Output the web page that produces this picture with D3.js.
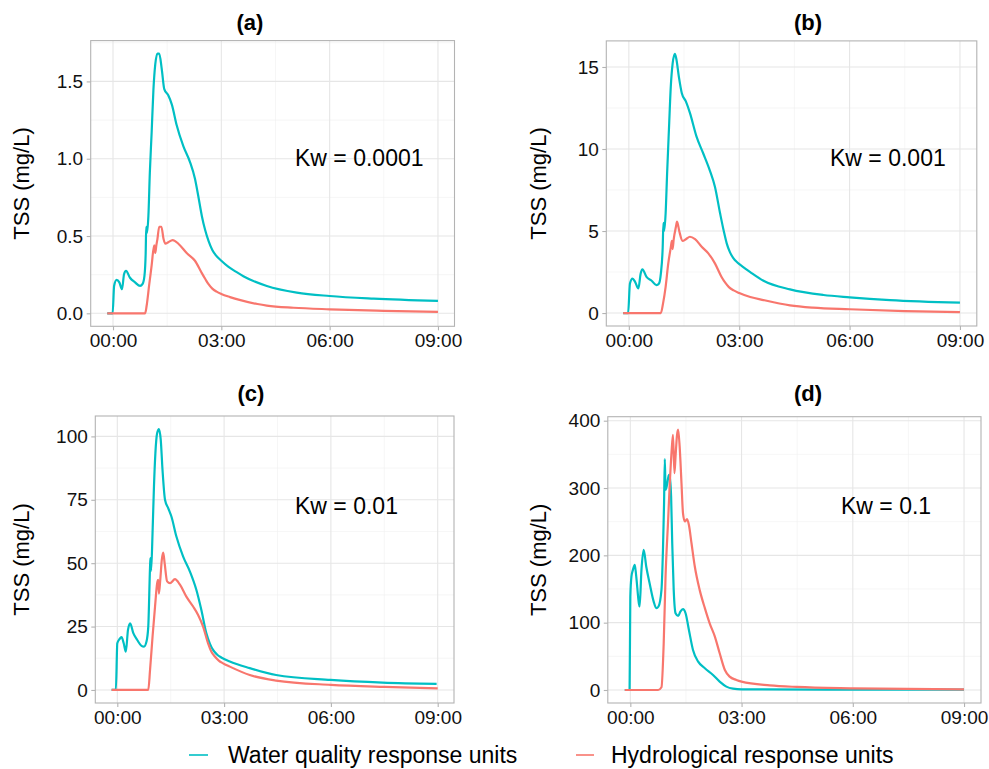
<!DOCTYPE html>
<html><head><meta charset="utf-8">
<script src="https://cdn.jsdelivr.net/npm/d3@7"></script>
<style>body{margin:0;background:#fff;} svg{display:block;font-family:"Liberation Sans",Arial,sans-serif;}</style>
</head><body><svg id="chart" width="989" height="769"></svg>
<script>
// ---------------- DATA ----------------
const seriesNames = ["Water quality response units", "Hydrological response units"];
const panelTitles = ["(a)", "(b)", "(c)", "(d)"];
const kwLabels = ["Kw = 0.0001", "Kw = 0.001", "Kw = 0.01", "Kw = 0.1"];
const xTickValues = [0, 3, 6, 9];            // hours
const xTickLabels = ["00:00", "03:00", "06:00", "09:00"];
const yTicksA = [0, 0.5, 1.0, 1.5];
const yTicksB = [0, 5, 10, 15];
const yTicksC = [0, 25, 50, 75, 100];
const yTicksD = [0, 100, 200, 300, 400];
const yLabelsA = ["0.0", "0.5", "1.0", "1.5"];
const yLabelsB = ["0", "5", "10", "15"];
const yLabelsC = ["0", "25", "50", "75", "100"];
const yLabelsD = ["0", "100", "200", "300", "400"];

// [hours, TSS mg/L]
const wqA = [[-0.16,0],[-0.01,0],[0.03,0.177],[0.10,0.216],[0.175,0.20],[0.25,0.156],[0.305,0.253],[0.36,0.275],[0.47,0.23],[0.61,0.20],[0.75,0.177],[0.82,0.19],[0.87,0.24],[0.905,0.39],[0.92,0.56],[0.94,0.52],[0.98,0.63],[1.02,0.91],[1.07,1.17],[1.12,1.45],[1.17,1.61],[1.23,1.68],[1.28,1.68],[1.35,1.58],[1.42,1.45],[1.53,1.41],[1.63,1.35],[1.76,1.22],[1.95,1.08],[2.13,0.98],[2.27,0.87],[2.36,0.76],[2.46,0.63],[2.55,0.54],[2.65,0.465],[2.75,0.41],[2.85,0.375],[3.0,0.34],[3.2,0.30],[3.4,0.27],[3.61,0.24],[4.26,0.177],[5.09,0.134],[6.0,0.112],[7.22,0.095],[9.0,0.08]];
const hruA = [[-0.16,0],[0.89,0],[0.93,0.047],[1.0,0.18],[1.07,0.31],[1.14,0.44],[1.17,0.39],[1.2,0.44],[1.23,0.48],[1.28,0.56],[1.34,0.56],[1.4,0.48],[1.45,0.45],[1.53,0.46],[1.65,0.474],[1.81,0.45],[2.04,0.39],[2.27,0.34],[2.46,0.26],[2.56,0.22],[2.64,0.19],[2.75,0.16],[2.87,0.14],[3.0,0.125],[3.24,0.105],[3.53,0.085],[4.0,0.06],[4.26,0.05],[5.0,0.036],[6.0,0.026],[7.5,0.016],[9.0,0.009]];

const wqB = [[-0.155,0],[-0.02,0],[0.03,1.8],[0.1,2.1],[0.17,1.9],[0.26,1.5],[0.32,2.4],[0.37,2.66],[0.48,2.2],[0.62,1.97],[0.75,1.7],[0.82,1.8],[0.87,2.4],[0.92,4.0],[0.94,5.5],[0.96,5.0],[1.0,6.08],[1.04,8.5],[1.09,11.2],[1.14,13.8],[1.19,15.2],[1.25,15.8],[1.29,15.5],[1.36,14.4],[1.44,13.4],[1.55,12.9],[1.66,12.2],[1.84,10.75],[2.02,9.74],[2.2,8.7],[2.34,7.7],[2.48,6.08],[2.58,5.0],[2.66,4.25],[2.75,3.7],[2.84,3.35],[2.95,3.08],[3.1,2.82],[3.3,2.5],[3.66,1.97],[4.38,1.44],[5.29,1.1],[6.0,0.96],[7.1,0.79],[9.0,0.63]];
const hruB = [[-0.155,0],[0.87,0],[0.93,0.59],[1.0,1.6],[1.07,3.0],[1.14,4.0],[1.17,4.4],[1.19,3.9],[1.22,4.5],[1.28,5.26],[1.31,5.57],[1.37,5.0],[1.46,4.4],[1.55,4.5],[1.66,4.65],[1.8,4.5],[1.98,4.04],[2.16,3.64],[2.34,3.03],[2.52,2.2],[2.62,1.85],[2.72,1.58],[2.85,1.38],[3.0,1.22],[3.3,0.98],[3.66,0.79],[4.38,0.47],[5.0,0.33],[6.0,0.23],[7.5,0.12],[9.0,0.06]];

const wqC = [[-0.16,0],[-0.04,0],[0.0,18.4],[0.06,20],[0.12,20.8],[0.18,18.4],[0.24,15.1],[0.30,23.7],[0.36,26.3],[0.45,22.4],[0.56,19.7],[0.68,17.4],[0.75,17.1],[0.82,19.1],[0.87,25],[0.92,48.7],[0.93,52],[0.95,47],[0.99,61.9],[1.03,80.3],[1.07,93.4],[1.12,101.3],[1.17,102.9],[1.22,98.7],[1.27,86.8],[1.34,75],[1.43,71.7],[1.52,68.4],[1.66,60.5],[1.85,52.6],[2.04,46.7],[2.22,39.5],[2.36,31.6],[2.5,22.4],[2.6,18.3],[2.69,15.8],[2.8,14.0],[2.92,12.8],[3.16,11.2],[3.72,8.6],[4.46,5.9],[5.99,3.95],[7.45,2.9],[8.97,2.4]];
const hruC = [[-0.16,0],[0.87,0],[0.92,7.9],[0.99,21],[1.06,32.9],[1.12,42.1],[1.15,43.4],[1.17,38],[1.21,44],[1.25,51.3],[1.29,54.2],[1.33,50],[1.40,42.8],[1.48,42.1],[1.62,43.7],[1.76,41.5],[1.94,36.8],[2.13,32.9],[2.27,29.6],[2.41,25],[2.55,18.4],[2.64,15.2],[2.74,13.2],[2.85,11.6],[2.97,10.5],[3.16,9.2],[3.72,5.9],[4.46,3.7],[6.0,2.0],[7.5,1.2],[9.0,0.66]];

const wqD = [[-0.15,0],[-0.02,0],[0.0,138.8],[0.03,168.5],[0.07,178.4],[0.12,185.9],[0.16,168.5],[0.23,128.9],[0.25,124],[0.3,178],[0.36,208],[0.43,183],[0.52,158.6],[0.63,131.3],[0.7,121.5],[0.76,124],[0.84,148.7],[0.88,208],[0.91,277.6],[0.93,343],[0.95,297.4],[0.99,304.8],[1.04,319.7],[1.06,319.7],[1.1,287.4],[1.13,218],[1.17,148.7],[1.22,114],[1.29,110],[1.35,116.5],[1.42,120],[1.49,114],[1.58,89.2],[1.69,59.5],[1.83,42.1],[2.01,32.2],[2.23,22.3],[2.41,12.4],[2.59,5],[2.77,2],[3.0,1.0],[6.0,0.6],[9.0,0.5]];
const hruD = [[-0.15,0],[0.75,0],[0.84,4],[0.9,69],[0.95,168.5],[1.02,252.8],[1.06,302],[1.11,352],[1.15,379],[1.19,322],[1.22,347],[1.26,379],[1.29,386.6],[1.33,361.8],[1.38,307],[1.42,262.8],[1.47,250.3],[1.53,253.8],[1.58,245],[1.65,218],[1.74,183],[1.87,148.7],[2.01,121.5],[2.14,99],[2.28,79.3],[2.41,54.5],[2.55,29.7],[2.68,19.8],[2.86,14.9],[3.0,12.4],[3.76,6.9],[4.49,4.5],[6.0,2.5],[9.0,1.0]];

// ---------------- LAYOUT / STYLE ----------------
const colors = ["#00BFC4", "#F8766D"];
const panels = [
  {wq: wqA, hru: hruA, yt: yTicksA, yl: yLabelsA, box: {x0: 90.7, x1: 454.5, y0: 40.6, y1: 326.3}, title: [250, 30], kw: [295, 166], ylab: [29]},
  {wq: wqB, hru: hruB, yt: yTicksB, yl: yLabelsB, box: {x0: 606.3, x1: 976.8, y0: 40.9, y1: 326}, title: [808, 30], kw: [830, 166], ylab: [546]},
  {wq: wqC, hru: hruC, yt: yTicksC, yl: yLabelsC, box: {x0: 95.3, x1: 454, y0: 416, y1: 703}, title: [251, 401], kw: [295, 514], ylab: [29]},
  {wq: wqD, hru: hruD, yt: yTicksD, yl: yLabelsD, box: {x0: 607.8, x1: 981, y0: 416.7, y1: 703}, title: [808, 401], kw: [841, 514], ylab: [546]}
];

const svg = d3.select("#chart");
svg.append("rect").attr("width", 989).attr("height", 769).attr("fill", "#fff");

function expand(ext) { const d = (ext[1] - ext[0]) * 0.05; return [ext[0] - d, ext[1] + d]; }

panels.forEach((p, i) => {
  const all = p.wq.concat(p.hru);
  const x = d3.scaleLinear().domain(expand(d3.extent(all, d => d[0]))).range([p.box.x0, p.box.x1]);
  const y = d3.scaleLinear().domain(expand([0, d3.max(all, d => d[1])])).range([p.box.y1, p.box.y0]);
  const g = svg.append("g");
  const [xd0, xd1] = x.domain(), [yd0, yd1] = y.domain();

  // minor grid
  const xMinor = [], yMinor = [];
  const step = xTickValues[1] - xTickValues[0];
  for (let k = 0; k < xTickValues.length + 1; k++) {
    const v = xTickValues[0] + step * (k - 0.5);
    if (v > xd0 && v < xd1) xMinor.push(v);
  }
  const ystep = p.yt[1] - p.yt[0];
  for (let k = 0; k < p.yt.length + 1; k++) {
    const v = p.yt[0] + ystep * (k - 0.5);
    if (v > yd0 && v < yd1) yMinor.push(v);
  }
  g.selectAll(".xmin").data(xMinor).join("line")
    .attr("x1", d => x(d)).attr("x2", d => x(d)).attr("y1", p.box.y0).attr("y2", p.box.y1)
    .attr("stroke", "#F0F0F0").attr("stroke-width", 0.6);
  g.selectAll(".ymin").data(yMinor).join("line")
    .attr("y1", d => y(d)).attr("y2", d => y(d)).attr("x1", p.box.x0).attr("x2", p.box.x1)
    .attr("stroke", "#F0F0F0").attr("stroke-width", 0.6);
  // major grid
  g.selectAll(".xmaj").data(xTickValues).join("line")
    .attr("x1", d => x(d)).attr("x2", d => x(d)).attr("y1", p.box.y0).attr("y2", p.box.y1)
    .attr("stroke", "#E6E6E6").attr("stroke-width", 1.1);
  g.selectAll(".ymaj").data(p.yt).join("line")
    .attr("y1", d => y(d)).attr("y2", d => y(d)).attr("x1", p.box.x0).attr("x2", p.box.x1)
    .attr("stroke", "#E6E6E6").attr("stroke-width", 1.1);

  // lines
  const line = d3.line().x(d => x(d[0])).y(d => y(d[1])).curve(d3.curveMonotoneX);
  [p.wq, p.hru].forEach((s, j) => {
    g.append("path").attr("d", line(s)).attr("fill", "none")
      .attr("stroke", colors[j]).attr("stroke-width", 2.2).attr("stroke-linejoin", "round");
  });

  // border
  g.append("rect").attr("x", p.box.x0).attr("y", p.box.y0)
    .attr("width", p.box.x1 - p.box.x0).attr("height", p.box.y1 - p.box.y0)
    .attr("fill", "none").attr("stroke", "#B3B3B3").attr("stroke-width", 1.1);

  // axes
  const xAxis = d3.axisBottom(x).tickValues(xTickValues).tickFormat((d, k) => xTickLabels[k]).tickSize(4).tickPadding(3.5);
  const gx = g.append("g").attr("transform", `translate(0,${p.box.y1})`).call(xAxis);
  const yAxis = d3.axisLeft(y).tickValues(p.yt).tickFormat((d, k) => p.yl[k]).tickSize(4).tickPadding(3.5);
  const gy = g.append("g").attr("transform", `translate(${p.box.x0},0)`).call(yAxis);
  [gx, gy].forEach(a => {
    a.select(".domain").remove();
    a.selectAll(".tick line").attr("stroke", "#B3B3B3").attr("stroke-width", 1.1);
    a.selectAll(".tick text").attr("fill", "#111").style("font-size", "19px")
      .style("font-family", '"Liberation Sans", Arial, sans-serif');
  });

  // titles
  g.append("text").attr("x", p.title[0]).attr("y", p.title[1]).attr("text-anchor", "middle")
    .style("font-size", "22px").style("font-weight", "bold").attr("fill", "#000").text(panelTitles[i]);
  g.append("text").attr("transform", `translate(${p.ylab[0]},${(p.box.y0 + p.box.y1) / 2}) rotate(-90)`)
    .attr("text-anchor", "middle").style("font-size", "22px").attr("fill", "#000").text("TSS (mg/L)");
  g.append("text").attr("x", p.kw[0]).attr("y", p.kw[1]).style("font-size", "23px").attr("fill", "#000").text(kwLabels[i]);
});

// legend
const legendItems = [{key: [189, 208], tx: 228}, {key: [576, 594], tx: 611}];
legendItems.forEach((l, j) => {
  svg.append("line").attr("x1", l.key[0]).attr("x2", l.key[1]).attr("y1", 755).attr("y2", 755)
    .attr("stroke", colors[j]).attr("stroke-width", 1.6);
  svg.append("text").attr("x", l.tx).attr("y", 763).style("font-size", "23px").attr("fill", "#000").text(seriesNames[j]);
});
</script></body></html>
